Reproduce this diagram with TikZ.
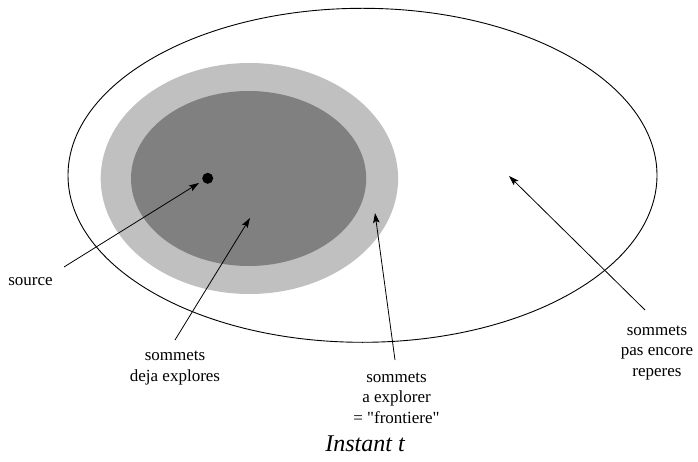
\documentclass[tikz,border=0pt]{standalone}
\usepackage{fontspec}
\setmainfont{Liberation Serif}
\newfontfamily\rawserif{Liberation Serif}[Ligatures=TeXOff]
\usetikzlibrary{arrows.meta}
\definecolor{ringgray}{HTML}{C0C0C0}
\definecolor{coregray}{HTML}{808080}
\begin{document}
\begin{tikzpicture}[x=1pt,y=-1pt,
  lbl/.style={align=center,font=\fontsize{17}{20.5}\selectfont,inner sep=0pt},
  pointer/.style={line width=0.8pt,-{Stealth[length=10pt,width=6.5pt,inset=2pt]}},
  outline/.style={line width=0.9pt}]
\useasboundingbox (0,0) rectangle (698,462);
% regions
\fill[ringgray] (249.4,178.5) ellipse [x radius=148.7, y radius=115.5];
\fill[coregray] (248.6,178.5) ellipse [x radius=117.6, y radius=87.5];
\draw[outline] (362.5,175.3) ellipse [x radius=294.5, y radius=167];
\node[circle,fill=black,minimum size=11pt,inner sep=0pt] (src) at (207.7,178.3) {};
% labels (anchor=base is the baseline of the last line)
\node[lbl,anchor=base] (lsource) at (30.5,285) {source};
\node[lbl,anchor=base] (ldeja) at (175,381) {sommets\\deja explores};
\node[lbl,anchor=base] (lfront) at (396.5,423) {sommets\\a explorer\\{\rawserif = "frontiere"}};
\node[lbl,anchor=base] (lrep) at (657,376) {sommets\\pas encore\\reperes};
\node[anchor=base,inner sep=0pt,font=\fontsize{24}{28}\selectfont\itshape] (title) at (365,451) {Instant t};
% arrow ends
\coordinate (t1) at (64,267);   \coordinate (h1) at (199,183);
\coordinate (t2) at (175,340);  \coordinate (h2) at (250,218);
\coordinate (t3) at (395,360);  \coordinate (h3) at (375,213);
\coordinate (t4) at (645,310);  \coordinate (h4) at (509,176);
\draw[pointer] (t1) -- (h1);
\draw[pointer] (t2) -- (h2);
\draw[pointer] (t3) -- (h3);
\draw[pointer] (t4) -- (h4);
\end{tikzpicture}
\end{document}
